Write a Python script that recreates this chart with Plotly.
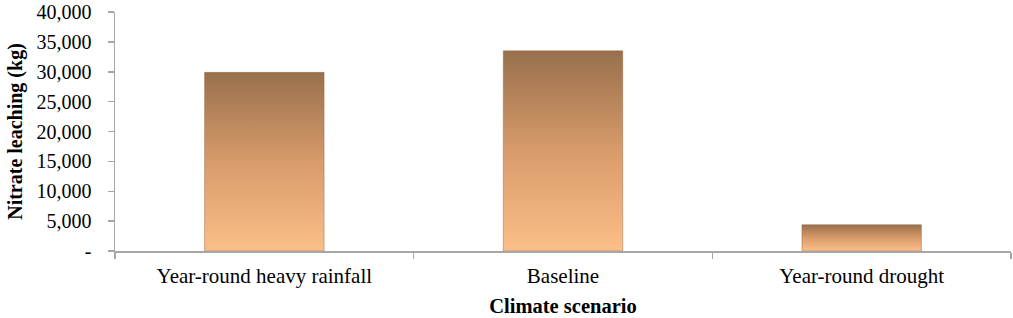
import plotly.graph_objects as go

categories = ["Year-round heavy rainfall", "Baseline", "Year-round drought"]
values = [29900, 33500, 4400]
y_tickvals = [0, 5000, 10000, 15000, 20000, 25000, 30000, 35000, 40000]
y_ticktext = ["-", "5,000", "10,000", "15,000", "20,000", "25,000", "30,000", "35,000", "40,000"]

bar_half = 0.2
fig = go.Figure()
for i, (cat, v) in enumerate(zip(categories, values)):
    fig.add_trace(go.Scatter(
        x=[i - bar_half, i - bar_half, i + bar_half, i + bar_half, i - bar_half],
        y=[0, v, v, 0, 0],
        mode="lines",
        fill="toself",
        line=dict(color="rgba(150,100,60,0.45)", width=1),
        fillgradient=dict(type="vertical",
                          colorscale=[[0, "#fcbf89"], [0.5, "#d89b6a"], [1, "#98704d"]]),
        hoverinfo="skip",
        showlegend=False,
        name=cat,
    ))

font = "Liberation Serif, Times New Roman, serif"
fig.update_layout(
    width=1013, height=318,
    margin=dict(l=115, r=2, t=12, b=67),
    paper_bgcolor="white", plot_bgcolor="white",
    font=dict(family=font, color="black", size=20),
    xaxis=dict(
        range=[-0.5, 2.5],
        tickvals=list(range(len(categories))),
        ticktext=categories,
        ticks="",
        automargin=False,
        showgrid=False, zeroline=False,
        showline=True, linecolor="#a6a6a6", linewidth=1.5,
        tickfont=dict(size=21),
        ticklabelstandoff=5,
        minor=dict(ticks="outside", tickvals=[-0.5, 0.5, 1.5, 2.5], ticklen=6,
                   tickcolor="#a6a6a6", tickwidth=1.5, showgrid=False),
        title=dict(text="<b>Climate scenario</b>", font=dict(size=20.5), standoff=12),
        fixedrange=True,
    ),
    yaxis=dict(
        range=[0, 40000],
        tickvals=y_tickvals,
        ticktext=y_ticktext,
        automargin=False,
        ticklabeloverflow="allow",
        ticks="outside", ticklen=6, tickcolor="#a6a6a6", tickwidth=1.5,
        showgrid=False, zeroline=False,
        showline=True, linecolor="#a6a6a6", linewidth=1.5,
        tickfont=dict(size=20),
        ticklabelstandoff=12,
        title=dict(text="<b>Nitrate leaching (kg)</b>", font=dict(size=20), standoff=8),
        fixedrange=True,
    ),
)
fig.write_html("out.html",
               config={"displayModeBar": False, "staticPlot": True},
               post_script="document.body.style.margin='0px';document.body.style.overflow='hidden';")
